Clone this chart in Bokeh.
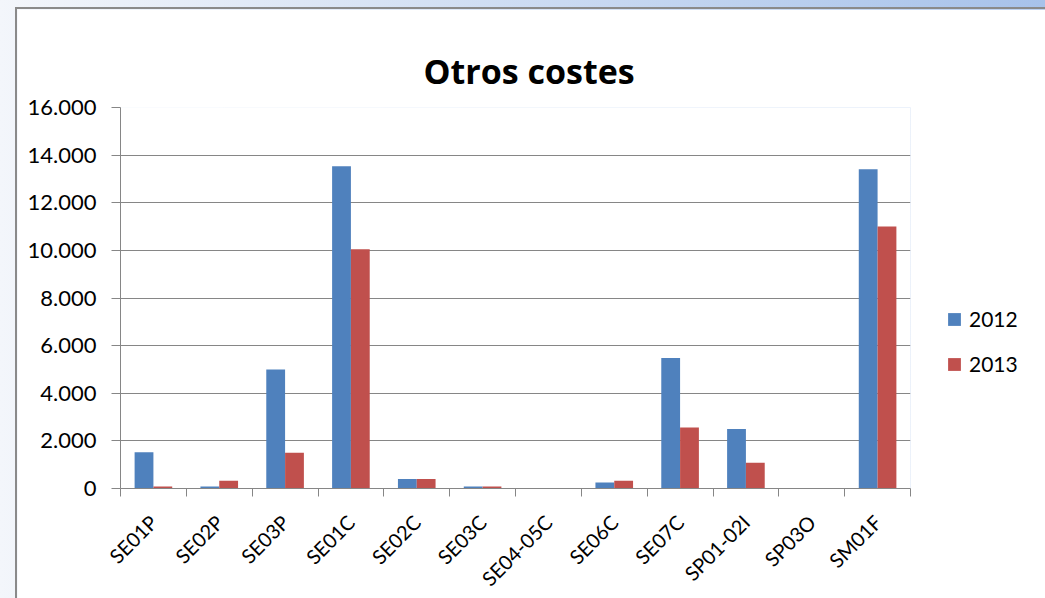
import numpy as np
from bokeh.plotting import figure
from bokeh.models import Range1d, FixedTicker, Legend, LegendItem, ColumnDataSource, Title
from bokeh.embed import file_html
from bokeh.resources import INLINE

categories = ["SE01P", "SE02P", "SE03P", "SE01C", "SE02C", "SE03C",
              "SE04-05C", "SE06C", "SE07C", "SP01-02I", "SP03O", "SM01F"]
values_2012 = [1520, 80, 5000, 13530, 400, 80, 0, 250, 5480, 2500, 0, 13410]
values_2013 = [80, 330, 1500, 10050, 400, 80, 0, 330, 2560, 1080, 0, 11000]
series_names = ["2012", "2013"]
series_colors = ["#4F81BD", "#C0504D"]
y_ticks = [0, 2000, 4000, 6000, 8000, 10000, 12000, 14000, 16000]
y_tick_labels = ["0", "2.000", "4.000", "6.000", "8.000", "10.000", "12.000", "14.000", "16.000"]
chart_title = "Otros costes"

FONT = "Lato"
n = len(categories)
centers = np.arange(n) + 0.5
bar_w = 1.0 / 3.5

p = figure(frame_width=790, frame_height=381, output_backend="svg", toolbar_location=None,
           x_range=Range1d(0, n), y_range=Range1d(0, 16000),
           min_border_left=103, min_border_right=129, min_border_top=98,
           min_border_bottom=110)
p.styles = {"border-left": "2px solid #8a8a8a", "border-top": "2px solid #8a8a8a",
            "border-right": "3px solid #8a8a8a"}
p.outline_line_color = None
p.background_fill_color = "white"
p.border_fill_color = "white"

title = Title(text=chart_title, text_font="Open Sans", text_font_style="bold",
              text_font_size="34px", align="left", offset=303, text_color="black",
              standoff=28)
p.add_layout(title, "above")
# invisible spacer between title and frame
spacer = Title(text=".", text_font_size="1px", text_alpha=0, standoff=22)
p.add_layout(spacer, "above")

renderers = []
for i, (vals, name, col) in enumerate(zip([values_2012, values_2013], series_names, series_colors)):
    src = ColumnDataSource(dict(x=centers + (i - 0.5) * bar_w, top=vals))
    r = p.vbar(x="x", top="top", width=bar_w, bottom=0, source=src,
               fill_color=col, line_color=None)
    renderers.append(r)

# x axis: labels at centers, ticks at boundaries
xt = FixedTicker(ticks=list(centers), minor_ticks=list(range(n + 1)))
p.xaxis.ticker = xt
p.xaxis.major_label_overrides = {float(c): lab for c, lab in zip(centers, categories)}
p.xaxis.major_tick_out = 0
p.xaxis.major_tick_in = 0
p.xaxis.minor_tick_out = 8
p.xaxis.minor_tick_in = 0
p.xaxis.minor_tick_line_color = "#868686"
p.xaxis.axis_line_color = "#868686"
p.xaxis.major_label_orientation = np.pi / 4
p.xaxis.major_label_text_font = FONT
p.xaxis.major_label_text_font_size = "20px"
p.xaxis.major_label_text_color = "black"
p.xaxis.major_label_standoff = 22

p.yaxis.ticker = FixedTicker(ticks=y_ticks, minor_ticks=[])
p.yaxis.major_label_overrides = {t: lab for t, lab in zip(y_ticks, y_tick_labels)}
p.yaxis.major_tick_out = 9
p.yaxis.major_tick_in = 0
p.yaxis.major_tick_line_color = "#868686"
p.yaxis.axis_line_color = "#868686"
p.yaxis.major_label_text_font = FONT
p.yaxis.major_label_text_font_size = "22px"
p.yaxis.major_label_text_color = "black"
p.yaxis.major_label_standoff = 15

p.xgrid.grid_line_color = None
p.ygrid.grid_line_color = "#868686"
p.ygrid.grid_line_width = 1

legend = Legend(items=[LegendItem(label=nm, renderers=[r]) for nm, r in zip(series_names, renderers)],
                location=(36, 112))
legend.border_line_color = None
legend.background_fill_alpha = 0
legend.glyph_width = 16
legend.glyph_height = 16
legend.label_height = 20
legend.label_text_font = FONT
legend.label_text_font_size = "21px"
legend.label_text_color = "black"
legend.label_standoff = 7
legend.spacing = 20
legend.padding = 0
legend.margin = 0
p.add_layout(legend, "right")

html = file_html(p, INLINE)
html = html.replace("</head>",
                    "<style>html, body {background: linear-gradient(to right, #f3f6fb, #a7c2ea); overflow: hidden;} "
                    "body {margin: 7px 0 0 15px;}</style></head>", 1)
open("out.html", "w").write(html)
